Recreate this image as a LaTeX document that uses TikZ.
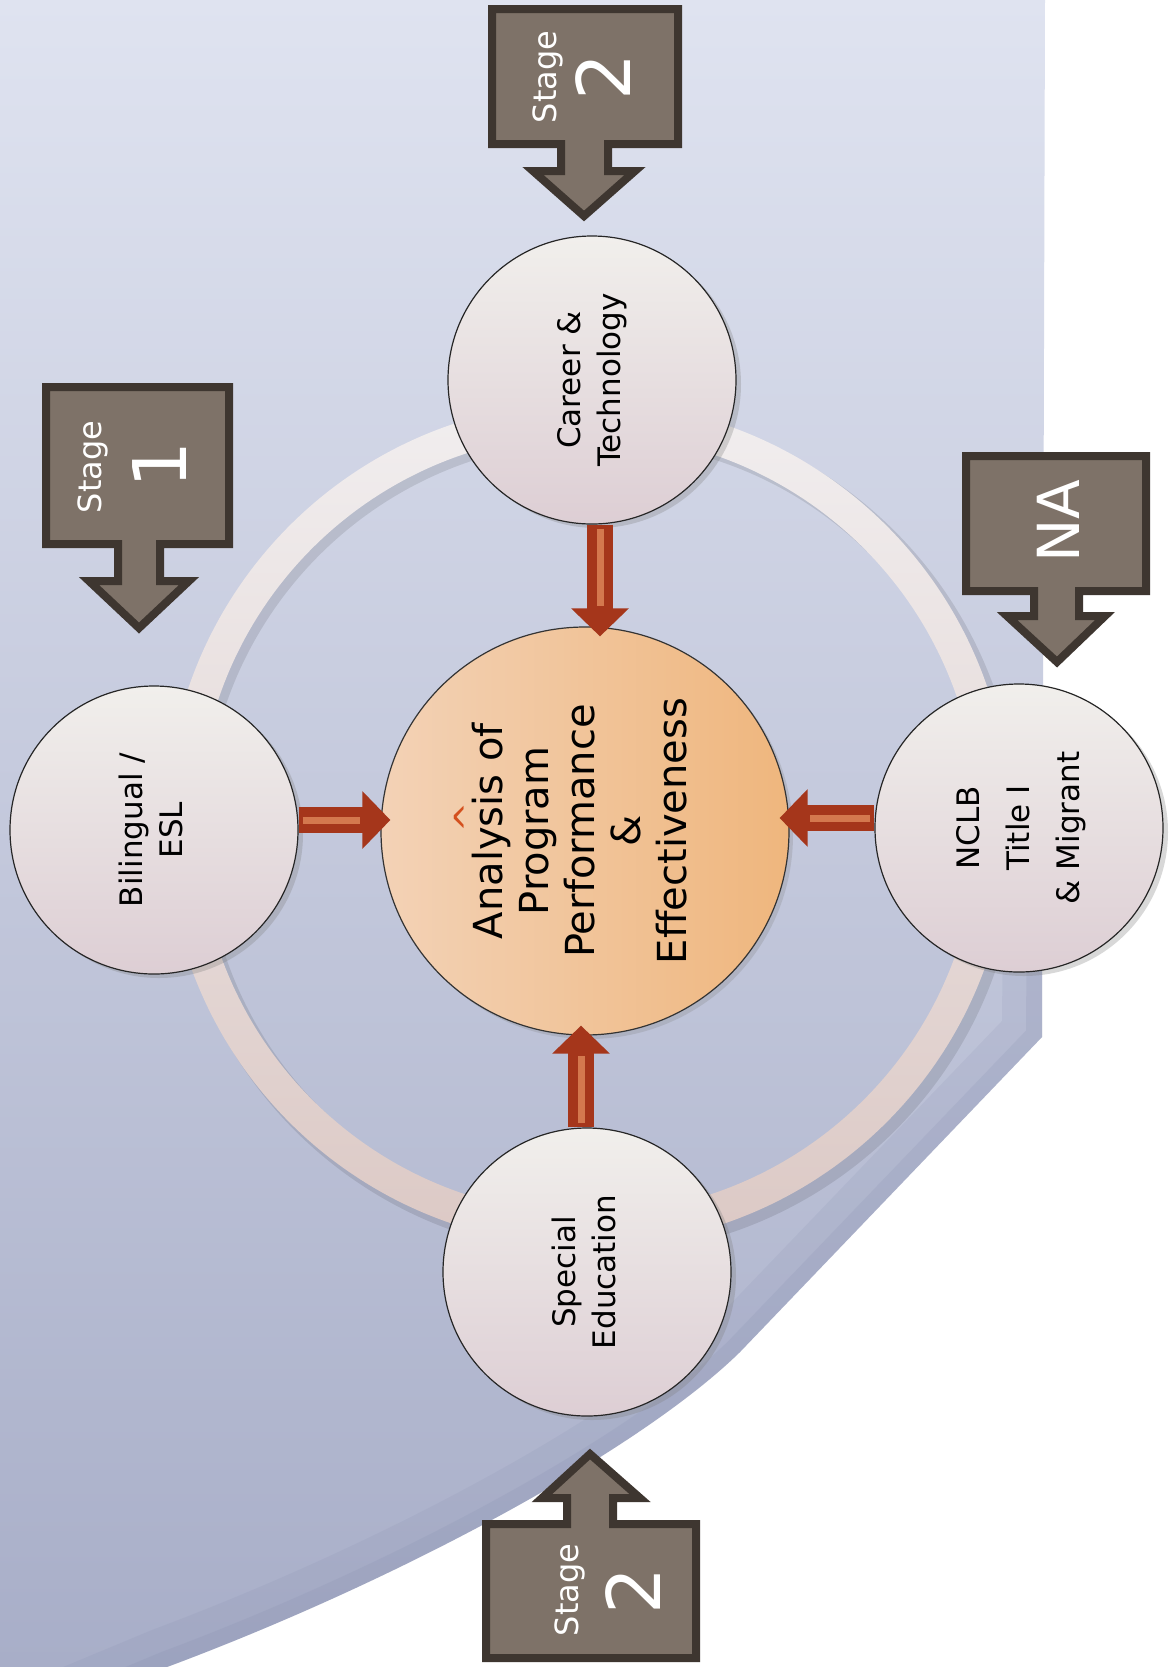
\documentclass[tikz,border=0pt]{standalone}
\usepackage{graphicx}
\usepackage{fontspec}
\setmainfont{DejaVu Sans}
\usetikzlibrary{arrows.meta,shadows}

\definecolor{bgtop}{HTML}{DFE3F0}
\definecolor{bgbot}{HTML}{A8AEC8}
\definecolor{bgedge}{HTML}{7D85A8}
\definecolor{ringlight}{HTML}{F1EEEF}
\definecolor{ringdark}{HTML}{DCC9C5}
\definecolor{satlight}{HTML}{F1EFEC}
\definecolor{satdark}{HTML}{DDCED4}
\definecolor{corelight}{HTML}{F3D2B6}
\definecolor{coredark}{HTML}{EFB67D}
\definecolor{arrowred}{HTML}{A5361B}
\definecolor{arrowlight}{HTML}{D4784E}
\definecolor{boxfill}{HTML}{7E7268}
\definecolor{boxedge}{HTML}{3E3630}
\definecolor{caretred}{HTML}{D4501E}

\newcommand{\vtext}[1]{\rotatebox{90}{\begin{tabular}{@{}c@{}}#1\end{tabular}}}

\tikzset{
  program/.style={circle, draw=black!85, line width=0.6pt, minimum size=144pt, inner sep=0pt,
    top color=satlight, bottom color=satdark,
    drop shadow={shadow xshift=2.5pt, shadow yshift=-2pt, opacity=0.3},
    font=\fontsize{15.5}{20}\selectfont},
  core/.style={circle, draw=black!80, line width=0.6pt, minimum size=204pt, inner sep=0pt,
    left color=corelight, right color=coredark,
    drop shadow={shadow xshift=2pt, shadow yshift=-2pt, opacity=0.25},
    font=\fontsize{20}{23}\selectfont},
  redarrow/.style={draw=arrowred, line width=13pt, shorten >=-5pt,
    -{Triangle[width=28pt,length=14pt]}},
  redstripe/.style={draw=arrowlight, line width=3.5pt, shorten <=2pt, shorten >=10pt},
  stagebox/.style={draw=boxedge, fill=boxfill, line width=4pt, line join=miter},
  stagetext/.style={rotate=90, text=white, inner sep=0pt, font=\fontsize{16}{16}\selectfont},
  stagenum/.style={rotate=90, text=white, inner sep=0pt, font=\fontsize{37}{37}\selectfont}
}

\begin{document}
\begin{tikzpicture}[x=0.5pt,y=-0.5pt]
\useasboundingbox (0,0) rectangle (1173,1667);
\fill[white] (0,0) rectangle (1173,1667);

%Shape: Background
\shade[top color=bgtop, bottom color=bgbot] (0,0) -- (1045,0) -- (1042,1037) -- (740,1352) .. controls (640,1450) and (400,1580) .. (167,1667) -- (0,1667) -- cycle;
\begin{scope}
\clip (0,0) -- (1045,0) -- (1042,1037) -- (740,1352) .. controls (640,1450) and (400,1580) .. (167,1667) -- (0,1667) -- cycle;
\draw[bgedge, opacity=0.12, line width=40pt, line join=round] (1044,700) -- (1042,1037) -- (740,1352) .. controls (640,1450) and (400,1580) .. (167,1667) -- (40,1720);
\draw[bgedge, opacity=0.15, line width=16pt, line join=round] (1044,700) -- (1042,1037) -- (740,1352) .. controls (640,1450) and (400,1580) .. (167,1667) -- (40,1720);
\end{scope}

%Shape: Ring
\fill[black, opacity=0.1, even odd rule] (595,831) circle[radius=424] (595,831) circle[radius=390];
\shade[even odd rule, top color=ringlight, bottom color=ringdark] (588,824) circle[radius=422] (588,824) circle[radius=390];

%Shape: Circles
\node[core] (analysis) at (585,831) {\vtext{Analysis of\\Program\\Performance\\\&\\Effectiveness}};
\node[program] (career) at (592,380) {\vtext{Career \&\\Technology}};
\node[program] (bilingual) at (154,830) {\vtext{Bilingual /\\ESL}};
\node[program, font=\fontsize{15.5}{25}\selectfont] (nclb) at (1019,828) {\vtext{NCLB\\Title I\\\& Migrant}};
\node[program] (special) at (587,1272) {\vtext{Special\\Education}};

% Text Node
\node[rotate=90, text=caretred, inner sep=0pt, font=\fontsize{18}{18}\selectfont] (caret) at (467,817) {\textasciicircum};

%Straight Lines
\draw[redarrow] ([xshift=4pt]career.south) -- ([xshift=4pt]career.south |- analysis.north);
\draw[redstripe] ([xshift=4pt]career.south) -- ([xshift=4pt]career.south |- analysis.north);
\draw[redarrow] ([yshift=5pt]bilingual.east) -- ([yshift=5pt]bilingual.east -| analysis.west);
\draw[redstripe] ([yshift=5pt]bilingual.east) -- ([yshift=5pt]bilingual.east -| analysis.west);
\draw[redarrow] ([yshift=5pt]nclb.west) -- ([yshift=5pt]nclb.west -| analysis.east);
\draw[redstripe] ([yshift=5pt]nclb.west) -- ([yshift=5pt]nclb.west -| analysis.east);
\draw[redarrow] ([xshift=-3pt]special.north) -- ([xshift=-3pt]special.north |- analysis.south);
\draw[redstripe] ([xshift=-3pt]special.north) -- ([xshift=-3pt]special.north |- analysis.south);

%Shape: Stage 1
\draw[stagebox] (46,387) -- (229,387) -- (229,544) -- (160,544) -- (160,581) -- (189,581) -- (139,628) -- (89,581) -- (118,581) -- (118,544) -- (46,544) -- cycle;
% Text Node
\node[stagetext] (stageA) at (93,467) {Stage};
\node[stagenum] (numA) at (160,465) {1};

%Shape: Stage 2 (top)
\draw[stagebox] (492,9) -- (678,9) -- (678,144) -- (608,144) -- (608,171) -- (635,171) -- (584,216) -- (533,171) -- (561,171) -- (561,144) -- (492,144) -- cycle;
% Text Node
\node[stagetext] (stageB) at (548,77) {Stage};
\node[stagenum] (numB) at (603,77) {2};

%Shape: NA
\draw[stagebox] (966,456) -- (1146,456) -- (1146,591) -- (1079,591) -- (1079,616) -- (1105,616) -- (1057,662) -- (1007,616) -- (1034,616) -- (1034,591) -- (966,591) -- cycle;
% Text Node
\node[stagenum, font=\fontsize{29}{29}\selectfont] (na) at (1058,521) {NA};

%Shape: Stage 2 (bottom)
\draw[stagebox] (486,1658) -- (486,1524) -- (567,1524) -- (567,1498) -- (542,1498) -- (590,1454) -- (640,1498) -- (613,1498) -- (613,1524) -- (696,1524) -- (696,1658) -- cycle;
% Text Node
\node[stagetext] (stageC) at (570,1590) {Stage};
\node[stagenum] (numC) at (633,1591) {2};

\end{tikzpicture}
\end{document}
